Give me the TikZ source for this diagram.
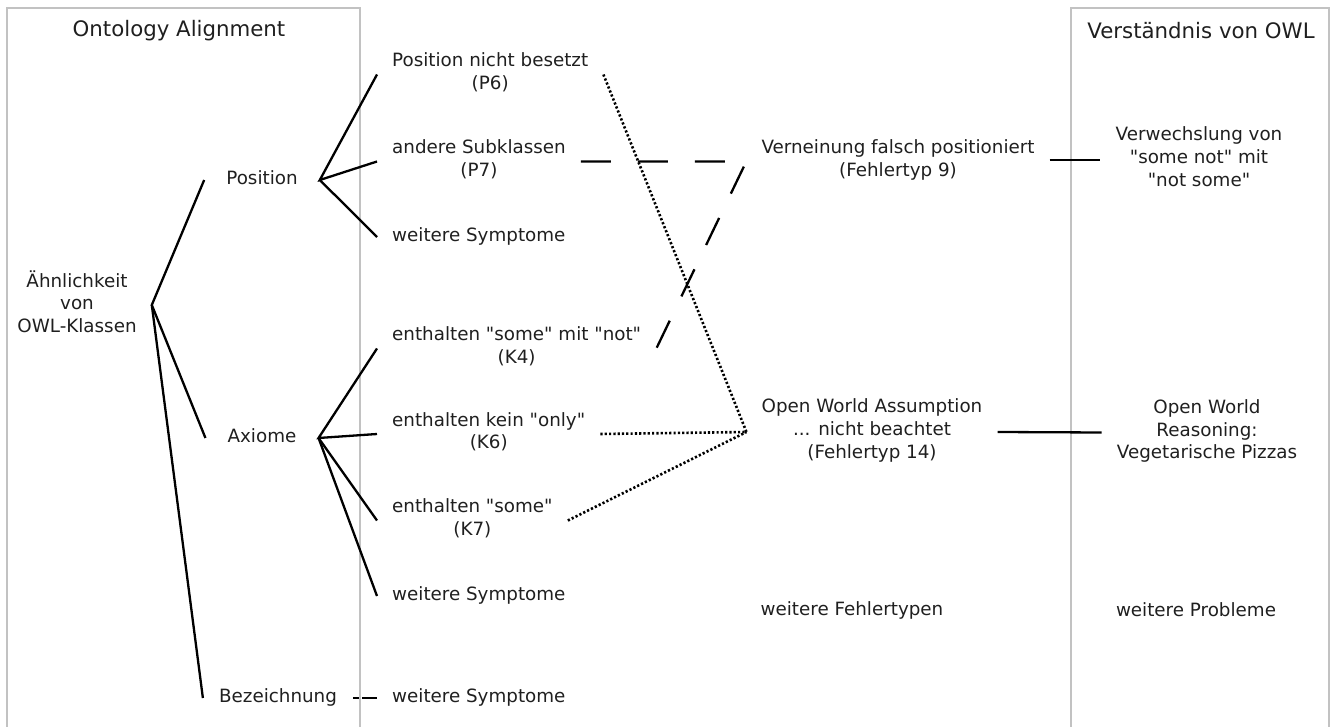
\documentclass[tikz,border=0pt]{standalone}
\usepackage{fontspec}
\setmainfont{DejaVu Sans}
\newcommand{\qq}{\textquotedbl}
\begin{document}
\begin{tikzpicture}[x=1pt,y=-1pt,
  txt/.style={font=\fontsize{18.3pt}{22.7pt}\selectfont, text=black!88, align=center,
    inner xsep=15pt, inner ysep=0pt,
    execute at begin node=\strut, execute at end node=\strut},
  head/.style={font=\fontsize{21.3pt}{25pt}\selectfont, text=black!88},
  col/.style={txt, anchor=west},
  panel/.style={draw=black!24, line width=2pt},
  link/.style={draw=black, line width=2.3pt},
  longdash/.style={link, dash pattern=on 30pt off 27pt},
  shortdash/.style={link, dash pattern=on 6pt off 3pt on 20pt off 3pt},
  dotline/.style={draw=black, line width=2.6pt, dash pattern=on 2.2pt off 2.1pt}]
\useasboundingbox (0,0) rectangle (1331,727);

% panels
\draw[panel] (7,727) -- (7,8) -- (360,8) -- (360,727);
\draw[panel] (1071,727) -- (1071,8) -- (1329,8) -- (1329,727);
\node[head] (tA) at (179,31) {Ontology Alignment};
\node[head] (tB) at (1201,31) {Verständnis von OWL};

% first level
\node[txt] (root) at (77,305) {Ähnlichkeit\\von\\OWL-Klassen};
\node[txt, inner xsep=22pt] (pos) at (262,180) {Position};
\node[txt, inner xsep=22pt] (ax) at (262,438) {Axiome};
\node[txt, inner xsep=16pt] (bez) at (278,698) {Bezeichnung};

% symptoms
\node[col] (p6) at (377,74.5) {Position nicht besetzt\\(P6)};
\node[col] (p7) at (377,161.5) {andere Subklassen\\(P7)};
\node[col] (ws1) at (377,237) {weitere Symptome};
\node[col] (k4) at (377,348.5) {enthalten \qq some\qq{} mit \qq not\qq\\(K4)};
\node[col] (k6) at (377,434) {enthalten kein \qq only\qq\\(K6)};
\node[col] (k7) at (377,520.5) {enthalten \qq some\qq\\(K7)};
\node[col] (ws2) at (377,596) {weitere Symptome};
\node[col] (ws3) at (377,698) {weitere Symptome};

% error types
\node[txt] (f9) at (898,161.5) {Verneinung falsch positioniert\\(Fehlertyp 9)};
\node[txt] (f14) at (872,432) {Open World Assumption\\... nicht beachtet\\(Fehlertyp 14)};
\node[txt] (wf) at (852,611) {weitere Fehlertypen};

% problems
\node[txt] (vw) at (1199,160) {Verwechslung von\\\qq some not\qq{} mit\\\qq not some\qq};
\node[txt] (owr) at (1207,432.5) {Open World\\Reasoning:\\Vegetarische Pizzas};
\node[txt] (wp) at (1196,612) {weitere Probleme};

% tree
\draw[link] (pos.west) -- (root.east) -- (ax.west);
\draw[link] (root.east) -- (bez.west);
\draw[link] (p6.west) -- (pos.east) -- (p7.west);
\draw[link] (pos.east) -- (ws1.west);
\draw[link] (k4.west) -- (ax.east) -- (k6.west);
\draw[link] (ax.east) -- (k7.west);
\draw[link] (ax.east) -- (ws2.west);
\draw[shortdash] (bez.east) -- (ws3.west);

% symptom to error type
\draw[longdash] (p7.east) -- (f9.west) -- (k4.east);
\draw[dotline] (p6.east) -- (f14.west);
\draw[dotline] (k6.east) -- (f14.west);
\draw[dotline] (k7.east) -- (f14.west);

% error type to problem
\draw[link] (f9.east |- vw.west) -- (vw.west);
\draw[link] (f14.east) -- (owr.west);
\end{tikzpicture}
\end{document}
